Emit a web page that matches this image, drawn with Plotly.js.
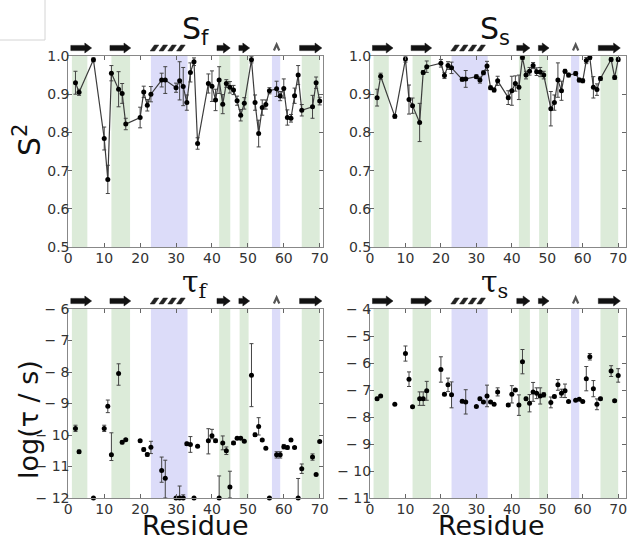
<!DOCTYPE html>
<html>
<head>
<meta charset="utf-8">
<script src="https://cdn.plot.ly/plotly-3.0.1.min.js"></script>
<style>html,body{margin:0;padding:0;background:#fff;}#plot{width:627px;height:537px;}</style>
</head>
<body>
<div id="plot"></div>
<script>
// Residue numbers
const residues = [2,3,7,10,11,12,14,15,16,20,21,22,23,26,27,30,31,32,33,34,35,36,39,40,41,42,43,44,45,46,47,48,49,51,52,53,54,55,56,58,59,60,61,62,63,64,65,68,69,70];

// S^2 fast
const Sf    = [0.930,0.905,0.990,0.784,0.677,0.955,0.913,0.902,0.822,0.839,0.906,0.871,0.900,0.937,0.937,0.917,0.935,0.920,0.878,0.957,0.985,0.771,0.928,0.921,0.885,0.937,0.874,0.928,0.918,0.911,0.883,0.845,0.876,0.990,0.878,0.797,0.865,0.873,0.909,0.914,0.895,0.915,0.839,0.837,0.896,0.950,0.858,0.867,0.930,0.882];
const SfErr = [0.030,0.008,0.005,0.030,0.037,0.020,0.046,0.026,0.015,0.027,0.015,0.015,0.020,0.018,0.035,0.012,0.050,0.050,0.020,0.025,0.010,0.015,0.025,0.040,0.028,0.035,0.025,0.010,0.015,0.012,0.012,0.015,0.015,0.008,0.020,0.035,0.020,0.012,0.008,0.020,0.012,0.025,0.020,0.010,0.020,0.025,0.015,0.030,0.015,0.010];

// S^2 slow
const Ss    = [0.891,0.947,0.842,0.992,0.886,0.870,0.826,0.957,0.972,0.981,0.949,0.975,0.969,0.939,0.940,0.946,0.937,0.956,0.974,0.917,0.911,0.935,0.891,0.909,0.928,0.918,0.996,0.950,0.960,0.975,0.959,0.958,0.950,0.862,0.878,0.937,0.909,0.960,0.950,0.954,0.937,0.935,0.988,0.996,0.918,0.912,0.941,0.991,0.944,0.991];
const SsErr = [0.022,0.008,0.005,0.008,0.038,0.020,0.050,0.005,0.015,0.010,0.008,0.010,0.015,0.005,0.022,0.005,0.008,0.005,0.012,0.005,0.005,0.012,0.018,0.038,0.020,0.032,0.005,0.010,0.010,0.008,0.010,0.012,0.010,0.045,0.020,0.045,0.025,0.005,0.005,0.005,0.005,0.005,0.008,0.005,0.028,0.015,0.005,0.005,0.005,0.005];

// log(tau_f / s)
const tauF      = [-9.79,-10.53,-12,-9.79,-9.09,-10.63,-8.05,-10.23,-10.15,-10.18,-10.46,-10.62,-10.39,-11.13,-11.37,-12,-12,-12,-10.28,-10.30,-12,-10.36,-10.18,-10.02,-10.18,-12,-10.25,-10.50,-11.65,-10.25,-10.10,-10.10,-10.20,-8.10,-9.99,-9.73,-10.16,-10.42,-12,-10.63,-10.63,-10.37,-10.40,-10.16,-10.40,-12,-11.07,-10.70,-11.25,-10.21];
const tauFErrUp = [0.10,0.05,0,0.10,0.20,0.70,0.31,0.05,0.03,0.03,0.05,0.05,0.19,0.43,0.57,0,0.38,0.10,0.05,0.25,0,0.03,0.38,0.20,0.05,0.70,0.22,0.12,0.50,0.05,0.03,0.03,0.03,1.00,0.05,0.28,0.03,0.03,0,0.10,0.10,0.07,0.05,0.03,0.03,0.62,0.15,0.10,0.03,0.03];
const tauFErrDn = [0.10,0.05,0,0.10,0.20,0.18,0.37,0.05,0.03,0.03,0.05,0.05,0.20,0.37,0.63,0,0,0,0.05,0.25,0,0.03,0.42,0.10,0.05,0,0.22,0.12,0.35,0.05,0.03,0.03,0.03,1.00,0.05,0.27,0.03,0.03,0,0.10,0.10,0.07,0.05,0.03,0.03,0,0.15,0.10,0.03,0.03];

// log(tau_s / s)
const tauS    = [-7.32,-7.22,-7.53,-5.65,-6.60,-7.62,-7.32,-7.32,-7.03,-6.24,-7.16,-6.81,-7.18,-7.42,-7.44,-7.61,-7.32,-7.44,-7.22,-7.44,-7.53,-7.07,-7.56,-7.16,-7.00,-7.56,-5.95,-7.32,-7.49,-7.07,-7.12,-7.22,-7.18,-7.46,-7.24,-6.81,-7.12,-7.03,-7.43,-7.38,-7.34,-7.43,-6.58,-5.77,-6.95,-7.53,-7.32,-6.30,-7.40,-6.46];
const tauSErr = [0.05,0.03,0.02,0.28,0.27,0.02,0.25,0.25,0.35,0.47,0.05,0.25,0.48,0.05,0.45,0.02,0.05,0.03,0.40,0.03,0.02,0.15,0.05,0.32,0.05,0.38,0.45,0.05,0.32,0.35,0.20,0.30,0.08,0.20,0.05,0.20,0.15,0.25,0.02,0.02,0.02,0.02,0.45,0.12,0.30,0.20,0.05,0.20,0.03,0.25];

// Structural regions
const greenBands = [[1,5.3],[12,17.2],[42,45.1],[47.7,50.2],[65,70]];
const blueBands  = [[23,33.2],[56.7,59]];
const sheets = [[0.7,6.5],[11.6,17.4],[41.4,45.1],[47.5,50.5],[64.4,70.6]];
const helix = [22.8,32.6];
const turn = 58;

const xTicks = [0,10,20,30,40,50,60,70];
const W = 627, H = 537;

const errStyle = {color:'#444', thickness:1, width:2};
const traces = [
  {x:residues, y:Sf, xaxis:'x', yaxis:'y', mode:'lines+markers', line:{color:'#3c3c3c', width:1.2},
   marker:{color:'#000', size:5}, error_y:Object.assign({type:'data', array:SfErr}, errStyle), cliponaxis:false},
  {x:residues, y:Ss, xaxis:'x2', yaxis:'y2', mode:'lines+markers', line:{color:'#3c3c3c', width:1.2},
   marker:{color:'#000', size:5}, error_y:Object.assign({type:'data', array:SsErr}, errStyle), cliponaxis:false},
  {x:residues, y:tauF, xaxis:'x3', yaxis:'y3', mode:'markers',
   marker:{color:'#000', size:5}, error_y:Object.assign({type:'data', symmetric:false, array:tauFErrUp, arrayminus:tauFErrDn}, errStyle), cliponaxis:false},
  {x:residues, y:tauS, xaxis:'x4', yaxis:'y4', mode:'markers',
   marker:{color:'#000', size:5}, error_y:Object.assign({type:'data', array:tauSErr}, errStyle), cliponaxis:false}
];

const leftDom = [68.3/W, 323.3/W];
const rightDom = [370/W, 626/W];
const topDom = [1-247/H, 1-56/H];
const botDom = [1-498/H, 1-309/H];

function xAx(dom, anchor, range){
  return {domain:dom, anchor:anchor, range:range, tickvals:xTicks, showline:true, mirror:'ticks', linecolor:'#888', linewidth:1,
    ticks:'inside', ticklen:4, tickcolor:'#666', showgrid:false, zeroline:false, ticklabeloverflow:'allow',
    tickfont:{family:'DejaVu Sans', size:14, color:'#333'}, ticklabelstandoff:-2};
}
function yAx(dom, anchor, range, vals, text){
  const a = {domain:dom, anchor:anchor, range:range, tickvals:vals, showline:true, mirror:'ticks', linecolor:'#888', linewidth:1,
    ticks:'inside', ticklen:4, tickcolor:'#666', showgrid:false, zeroline:false, ticklabeloverflow:'allow',
    tickfont:{family:'DejaVu Sans', size:14, color:'#333'}, ticklabelstandoff:-5};
  if (text) a.ticktext = text;
  return a;
}

const shapes = [];
const panels = [
  {xr:'x', yr:'y', yc:1-48/H},
  {xr:'x2', yr:'y2', yc:1-48/H},
  {xr:'x3', yr:'y3', yc:1-301/H},
  {xr:'x4', yr:'y4', yc:1-301/H}
];
const px = 1/H;
panels.forEach(p => {
  greenBands.forEach(b => shapes.push({type:'rect', xref:p.xr, yref:p.yr+' domain', x0:b[0], x1:b[1], y0:0, y1:1,
    fillcolor:'#dcebd9', line:{width:0}, layer:'below'}));
  blueBands.forEach(b => shapes.push({type:'rect', xref:p.xr, yref:p.yr+' domain', x0:b[0], x1:b[1], y0:0, y1:1,
    fillcolor:'#dcdcf9', line:{width:0}, layer:'below'}));
  const yc = p.yc;
  sheets.forEach(s => {
    const a = s[0], b = s[1], hd = 1.9, bh = 2.6*px, hh = 5*px;
    const path = `M${a},${yc-bh} L${b-hd},${yc-bh} L${b-hd},${yc-hh} L${b},${yc} L${b-hd},${yc+hh} L${b-hd},${yc+bh} L${a},${yc+bh} Z`;
    shapes.push({type:'path', xref:p.xr, yref:'paper', path:path, fillcolor:'#111', line:{color:'#111', width:0.5}});
  });
  const n = 4, w = (helix[1]-helix[0])/n, hh = 3*px;
  for (let i=0;i<n;i++){
    const x0 = helix[0] + i*w;
    const path = `M${x0},${yc-hh} L${x0+w*0.5},${yc-hh} L${x0+w*0.98},${yc+hh} L${x0+w*0.48},${yc+hh} Z`;
    shapes.push({type:'path', xref:p.xr, yref:'paper', path:path, fillcolor:'#222', line:{color:'#222', width:0.5}});
  }
  shapes.push({type:'path', xref:p.xr, yref:'paper', path:`M${turn-0.75},${yc-2.5*px} L${turn},${yc+3.5*px} L${turn+0.75},${yc-2.5*px}`,
    line:{color:'#555', width:2.2}});
});
// faint corner lines in the top-left of the picture
shapes.push({type:'line', xref:'paper', yref:'paper', x0:0, x1:45/W, y0:1-40/H, y1:1-40/H, line:{color:'#d4d4d4', width:1}});
shapes.push({type:'line', xref:'paper', yref:'paper', x0:45/W, x1:45/W, y0:1-40/H, y1:1, line:{color:'#d4d4d4', width:1}});

const titleFont = {family:'DejaVu Sans', size:30, color:'#111'};
const tauFont = {family:'DejaVu Serif', size:30, color:'#111'};
const annotations = [
  {text:'S<sub>f</sub>', x:(leftDom[0]+leftDom[1])/2, y:1-31/H, xref:'paper', yref:'paper', showarrow:false, font:titleFont, xanchor:'center', yanchor:'middle'},
  {text:'S<sub>s</sub>', x:(rightDom[0]+rightDom[1])/2 - 0.005, y:1-31/H, xref:'paper', yref:'paper', showarrow:false, font:titleFont, xanchor:'center', yanchor:'middle'},
  {text:'τ<sub>f</sub>', x:(leftDom[0]+leftDom[1])/2, y:1-283/H, xref:'paper', yref:'paper', showarrow:false, font:tauFont, xanchor:'center', yanchor:'middle'},
  {text:'τ<sub>s</sub>', x:(rightDom[0]+rightDom[1])/2 - 0.005, y:1-283/H, xref:'paper', yref:'paper', showarrow:false, font:tauFont, xanchor:'center', yanchor:'middle'},
  {text:'S<sup>2</sup>', x:28/W, y:1-140/H, xref:'paper', yref:'paper', showarrow:false, textangle:-90, font:{family:'DejaVu Sans', size:30, color:'#111'}, xanchor:'center', yanchor:'middle'},
  {text:'log(τ / s)', x:28/W, y:1-420/H, xref:'paper', yref:'paper', showarrow:false, textangle:-90, font:{family:'DejaVu Sans', size:27, color:'#111'}, xanchor:'center', yanchor:'middle'},
  {text:'Residue', x:(leftDom[0]+leftDom[1])/2, y:1-508/H, xref:'paper', yref:'paper', showarrow:false, font:{family:'DejaVu Sans', size:27, color:'#111'}, xanchor:'center', yanchor:'top'},
  {text:'Residue', x:(rightDom[0]+rightDom[1])/2 - 0.01, y:1-508/H, xref:'paper', yref:'paper', showarrow:false, font:{family:'DejaVu Sans', size:27, color:'#111'}, xanchor:'center', yanchor:'top'}
];

const layout = {
  width:W, height:H, margin:{l:0, r:0, t:0, b:0}, showlegend:false,
  paper_bgcolor:'#fff', plot_bgcolor:'rgba(0,0,0,0)',
  xaxis: xAx(leftDom, 'y', [0,71]),
  yaxis: yAx(topDom, 'x', [0.5,1.0], [0.5,0.6,0.7,0.8,0.9,1.0], ['0.5','0.6','0.7','0.8','0.9','1.0']),
  xaxis2: xAx(rightDom, 'y2', [0,72.2]),
  yaxis2: yAx(topDom, 'x2', [0.5,1.0], [0.5,0.6,0.7,0.8,0.9,1.0], ['0.5','0.6','0.7','0.8','0.9','1.0']),
  xaxis3: xAx(leftDom, 'y3', [0,71]),
  yaxis3: yAx(botDom, 'x3', [-12,-6], [-12,-11,-10,-9,-8,-7,-6], ['− 12','− 11','− 10','− 9','− 8','− 7','− 6']),
  xaxis4: xAx(rightDom, 'y4', [0,72.2]),
  yaxis4: yAx(botDom, 'x4', [-11,-4], [-11,-10,-9,-8,-7,-6,-5,-4], ['− 11','− 10','− 9','− 8','− 7','− 6','− 5','− 4']),
  shapes:shapes, annotations:annotations
};

Plotly.newPlot('plot', traces, layout, {displayModeBar:false, staticPlot:true});
</script>
</body>
</html>
